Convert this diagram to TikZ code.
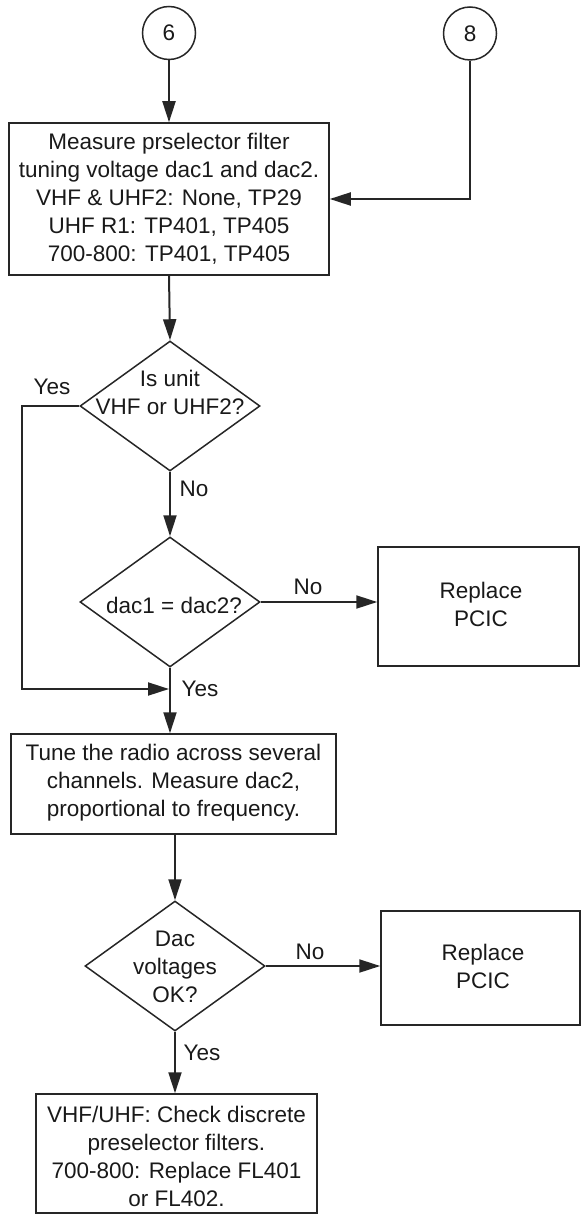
\documentclass[tikz,border=0pt]{standalone}
\usepackage{fontspec}
\setmainfont{Liberation Sans}
\usetikzlibrary{arrows.meta,shapes.geometric}
\begin{document}
\begin{tikzpicture}[x=1pt,y=-1pt,
  every node/.style={font=\fontsize{22.5}{28}\selectfont, text=black!90},
  boxnode/.style={draw=black!85, line width=1.5pt, rectangle, inner sep=0pt, align=center},
  decision/.style={draw=black!85, line width=1.5pt, diamond, inner sep=0pt, minimum width=180pt, minimum height=130pt},
  conn/.style={circle, draw=black!85, line width=1.5pt, minimum size=53pt, inner sep=0pt},
  flow/.style={draw=black!85, line width=2pt, -{Triangle[length=21pt,width=13pt]}},
  lbl/.style={inner sep=0pt}
]
\useasboundingbox (0,0) rectangle (581,1214);

% connectors (circles)
\node[conn] (c6) at (169,33) {6};
\node[conn] (c8) at (470,33.5) {8};

% process boxes
\node[boxnode, minimum width=320pt, minimum height=152pt] (b1) at (169,199) {};
\node[align=center] (t1) at (169,199) {Measure prselector filter\\tuning voltage dac1 and dac2.\\VHF \& UHF2: None, TP29\\UHF R1: TP401, TP405\\700-800: TP401, TP405};

\node[decision] (d1) at (170,406) {};
\node[align=center] (td1) at (170,392) {Is unit\\VHF or UHF2?};

\node[decision] (d2) at (170,602) {};
\node (td2) at (174,605) {dac1 = dac2?};

\node[boxnode, minimum width=201pt, minimum height=119pt] (r1) at (478.5,606.5) {};
\node[align=center] (tr1) at (481,604) {Replace\\PCIC};

\node[boxnode, minimum width=325pt, minimum height=100pt] (b2) at (173.5,784) {};
\node[align=center] (t2) at (173.5,783) {Tune the radio across several\\channels. Measure dac2,\\proportional to frequency.};

\node[decision] (d3) at (175,966) {};
\node[align=center] (td3) at (175,967) {Dac\\voltages\\OK?};

\node[boxnode, minimum width=199pt, minimum height=114pt] (r2) at (480.5,968) {};
\node[align=center] (tr2) at (483,966) {Replace\\PCIC};

\node[boxnode, minimum width=281pt, minimum height=119pt] (b3) at (176.5,1153.5) {};
\node[align=center] (t3) at (176.5,1156) {VHF/UHF: Check discrete\\preselector filters.\\700-800: Replace FL401\\or FL402.};

% flow lines
\draw[flow] (c6.south) -- (b1.north);
\draw[flow] (c8.south) |- (b1.east);
\draw[flow] (b1.south) -- (d1.north);
\draw[flow] (d1.south) -- (d2.north);
\coordinate (yl) at (21.5,689);
\coordinate (yj) at (169,689);
\draw[flow] (d1.west) -| (yl) -- (yj);
\draw[flow] (d2.east) -- (r1.west |- d2.east);
\draw[flow] (d2.south) -- (d2.south |- b2.north);
\draw[flow] (b2.south -| d3.north) -- (d3.north);
\draw[flow] (d3.east) -- (r2.west |- d3.east);
\draw[flow] (d3.south) -- (d3.south |- b3.north);

% labels
\node[lbl] (l1) at (52,387) {Yes};
\node[lbl] (l2) at (194,489) {No};
\node[lbl] (l3) at (308,587) {No};
\node[lbl] (l4) at (200,689) {Yes};
\node[lbl] (l5) at (310,952) {No};
\node[lbl] (l6) at (202,1053) {Yes};
\end{tikzpicture}
\end{document}
